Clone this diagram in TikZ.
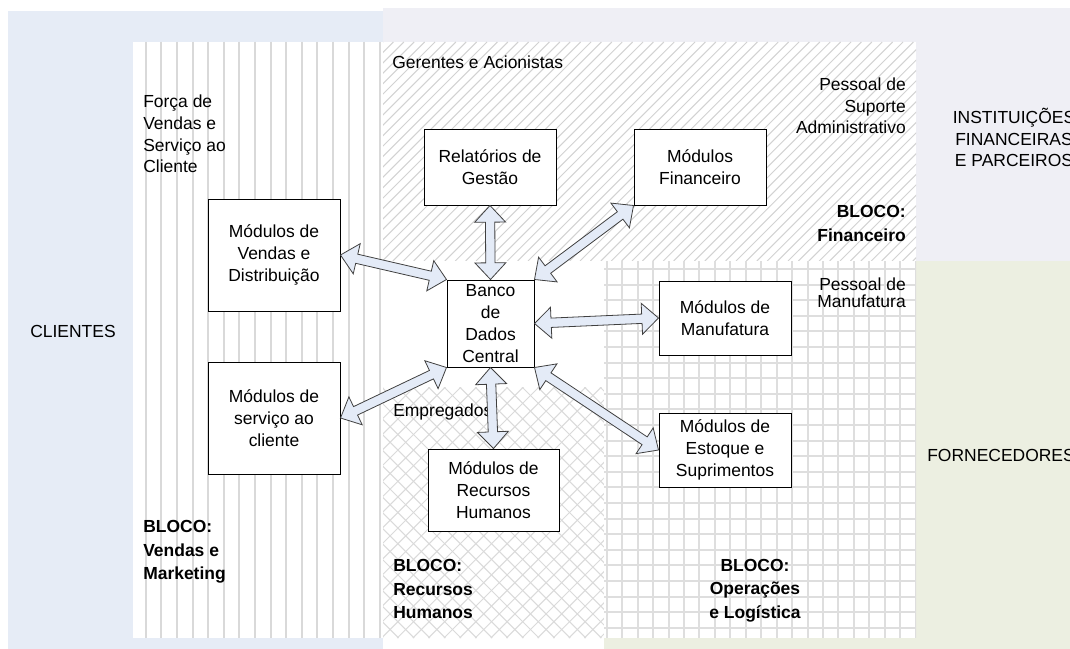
\documentclass[tikz,border=0pt]{standalone}
\usepackage{fontspec}
\setmainfont{Liberation Sans}
\usetikzlibrary{calc}
\definecolor{bgblue}{HTML}{E6ECF6}
\definecolor{bglav}{HTML}{EFEFF5}
\definecolor{bggreen}{HTML}{ECEFE1}
\definecolor{stripegray}{HTML}{D9D9D9}
\definecolor{hatchgray}{HTML}{D2D2D2}
\definecolor{crossgray}{HTML}{DADADA}
\definecolor{gridgray}{HTML}{DEDEDE}
\definecolor{arrfill}{HTML}{E4EBF7}
\definecolor{arrline}{HTML}{404040}
\newcommand\rgfnt{\fontsize{13.1pt}{16.3pt}\selectfont}
\newcommand\rgfnttight{\fontsize{13.1pt}{13pt}\selectfont}
\newcommand\bkfnt{\fontsize{13.1pt}{17.5pt}\selectfont\bfseries}
\newcommand\dblarrow[2]{%
  \path ($(#1)!12.5pt!(#2)$) coordinate (ha) ($(#2)!12.5pt!(#1)$) coordinate (hb);
  \draw[blockarrow] (#1) -- ($(ha)!11.6pt!90:(#2)$) -- ($(ha)!3.5pt!90:(#2)$)
    -- ($(hb)!3.5pt!-90:(#1)$) -- ($(hb)!11.6pt!-90:(#1)$) -- (#2)
    -- ($(hb)!11.6pt!90:(#1)$) -- ($(hb)!3.5pt!90:(#1)$)
    -- ($(ha)!3.5pt!-90:(#2)$) -- ($(ha)!11.6pt!-90:(#2)$) -- cycle;
}
\begin{document}
\begin{tikzpicture}[x=0.75pt,y=-0.75pt,
  modbox/.style={draw=black,line width=0.75pt,fill=white,align=center,inner sep=0pt,minimum width=99pt,font=\rgfnt},
  lbl/.style={inner sep=0pt,font=\rgfnt},
  blk/.style={inner sep=0pt,font=\bkfnt},
  blockarrow/.style={draw=arrline,fill=arrfill,line width=0.6pt,line join=miter},
  stripe/.style={stripegray,line width=1.5pt},
  hatch/.style={hatchgray,line width=0.75pt},
  cross/.style={crossgray,line width=0.75pt},
  gridl/.style={gridgray,line width=1.5pt}]
\clip (0,0) rectangle (1070,649);
\fill[white] (0,0) rectangle (1070,649);
% outer regions
\fill[bgblue] (8,11) rectangle (383,648.5);
\fill[bglav] (383,8) rectangle (1070,261);
\fill[bggreen] (604,261) rectangle (1070,649);
% Vendas e Marketing block (vertical stripes)
\fill[white] (133,42) rectangle (383,638);
\foreach \i in {0,...,15} \draw[stripe] ({145.7+15.6*\i},42) -- ({145.7+15.6*\i},638);
% Financeiro block (diagonal hatch)
\fill[white] (383,42) rectangle (916,261);
\begin{scope}
  \clip (383,42) rectangle (916,261);
  \foreach \i in {0,...,74} \draw[hatch] ({164+10.4*\i},261) -- ++(219,-219);
\end{scope}
% central white area
\fill[white] (383,261) rectangle (604,387);
% Recursos Humanos block (cross hatch)
\fill[white] (383,387) rectangle (604,638);
\begin{scope}
  \clip (383,387) rectangle (604,638);
  \foreach \i in {0,...,32} {
    \draw[cross] ({132+15.6*\i},638) -- ++(251,-251);
    \draw[cross] ({132+15.6*\i},387) -- ++(251,251);
  }
\end{scope}
% Operacoes block (grid)
\fill[white] (604,261) rectangle (916,638);
\begin{scope}
  \clip (604,261) rectangle (916,638);
  \foreach \i in {0,...,20} \draw[gridl] ({606.7+15.45*\i},261) -- ({606.7+15.45*\i},638);
  \foreach \i in {0,...,23} \draw[gridl] (604,{269+15.6*\i}) -- (916,{269+15.6*\i});
\end{scope}
% labels
\node[lbl,anchor=west] (cli) at (30,331) {CLIENTES};
\node[lbl,anchor=west,align=left] (forca) at (143,134) {Força de\\Vendas e\\Serviço ao\\Cliente};
\node[lbl,anchor=west] (ger) at (392,62.5) {Gerentes e Acionistas};
\node[lbl,anchor=east,align=right] (psa) at (906,106) {Pessoal de\\Suporte\\Administrativo};
\node[lbl,align=center] (inst) at (1014,137.5) {INSTITUIÇÕES\\FINANCEIRAS\\E PARCEIROS};
\node[blk,anchor=east,align=right] (bfin) at (906,223.4) {BLOCO:\\Financeiro};
\node[lbl,anchor=east,align=right,font=\rgfnttight] (pman) at (906,293) {Pessoal de\\Manufatura};
\node[lbl,anchor=west] (emp) at (393,411.7) {Empregados};
\node[lbl,anchor=west] (forn) at (927,455.5) {FORNECEDORES};
\node[blk,anchor=west,align=left] (bven) at (143,552) {BLOCO:\\Vendas e\\Marketing};
\node[blk,anchor=west,align=left] (brh) at (393,589) {BLOCO:\\Recursos\\Humanos};
\node[blk,align=center] (bops) at (755,590.5) {BLOCO:\\Operações\\e Logística};
% module boxes
\node[modbox,minimum height=56.25pt] (rel) at (490,167.5) {Relatórios de\\Gestão};
\node[modbox,minimum height=56.25pt] (fin) at (700,167.5) {Módulos\\Financeiro};
\node[modbox,minimum height=84pt] (ven) at (274,255) {Módulos de\\Vendas e\\Distribuição};
\node[modbox,minimum width=65.25pt,minimum height=65.25pt] (db) at (490.5,323.5) {Banco\\de\\Dados\\Central};
\node[modbox,minimum height=55.5pt] (man) at (725,318) {Módulos de\\Manufatura};
\node[modbox,minimum height=55.5pt] (est) at (725,450) {Módulos de\\Estoque e\\Suprimentos};
\node[modbox,minimum width=98.25pt,minimum height=61.5pt] (rh) at (493.5,490) {Módulos de\\Recursos\\Humanos};
\node[modbox,minimum height=84pt] (ser) at (274,418) {Módulos de\\serviço ao\\cliente};
% connectors
\dblarrow{rel.south}{db.north}
\dblarrow{fin.south west}{db.north east}
\dblarrow{ven.east}{db.north west}
\dblarrow{man.west}{db.east}
\dblarrow{ser.east}{db.south west}
\dblarrow{db.south}{rh.north}
\dblarrow{est.west}{db.south east}
\end{tikzpicture}
\end{document}
